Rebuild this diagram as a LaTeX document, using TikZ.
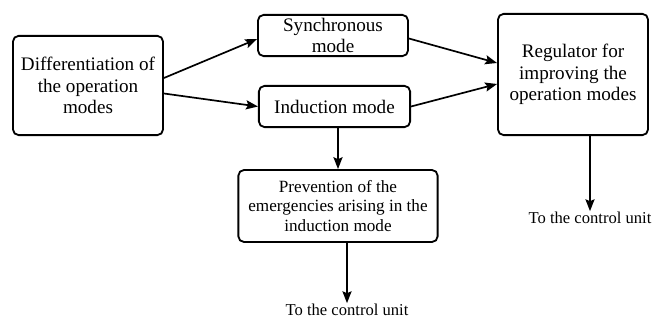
\documentclass[tikz,border=0pt]{standalone}
\usepackage{fontspec}
\setmainfont{Liberation Serif}
\usepackage{tikz}
\usetikzlibrary{positioning, calc, arrows.meta}

\begin{document}
\begin{tikzpicture}[
  x=0.025cm, y=-0.025cm,
  every node/.style={align=center},
  box/.style={rectangle, draw=black, line width=1.3pt, rounded corners=4pt, inner sep=2pt, font=\fontsize{13.6}{15.2}\selectfont},
  small/.style={font=\fontsize{12.2}{13.6}\selectfont},
  note/.style={font=\fontsize{11.8}{13}\selectfont, inner sep=0.5pt},
  arr/.style={-{Stealth[length=8.5pt, width=6.5pt, inset=1.5pt]}, line width=1.2pt}
]
\useasboundingbox (0,0) rectangle (652,320);

% Boxes
\node[box, minimum width=3.75cm, minimum height=2.48cm] (diff) at (88,85.5) {Differentiation of\\the operation\\modes};
\node[box, minimum width=3.75cm, minimum height=1.03cm] (sync) at (333,35.5) {Synchronous\\mode};
\node[box, minimum width=3.78cm, minimum height=1.03cm] (induc) at (334.5,106.5) {Induction mode};
\node[box, minimum width=3.75cm, minimum height=3.03cm] (reg) at (573,74.5) {Regulator for\\improving the\\operation modes};
\node[box, small, minimum width=4.98cm, minimum height=1.8cm] (prev) at (338,206) {Prevention of the\\emergencies arising in the\\induction mode};

% Outputs
\node[note] (out1) at (347,310) {To the control unit};
\node[note] (out2) at (590,218) {To the control unit};

% Arrows
\draw[arr] ($(diff.east)+(0,-7.5)$) -- ($(sync.west)+(0,3.5)$);
\draw[arr] ($(diff.east)+(0,8)$) -- (induc.west);
\draw[arr] ($(sync.east)+(0,3)$) -- ($(reg.west)+(0,-11.5)$);
\draw[arr] (induc.east) -- ($(reg.west)+(0,9.5)$);
\draw[arr] (prev.north |- induc.south) -- (prev.north);
\draw[arr] (out1.north |- prev.south) -- (out1.north);
\draw[arr] (out2.north |- reg.south) -- (out2.north);

\end{tikzpicture}
\end{document}
